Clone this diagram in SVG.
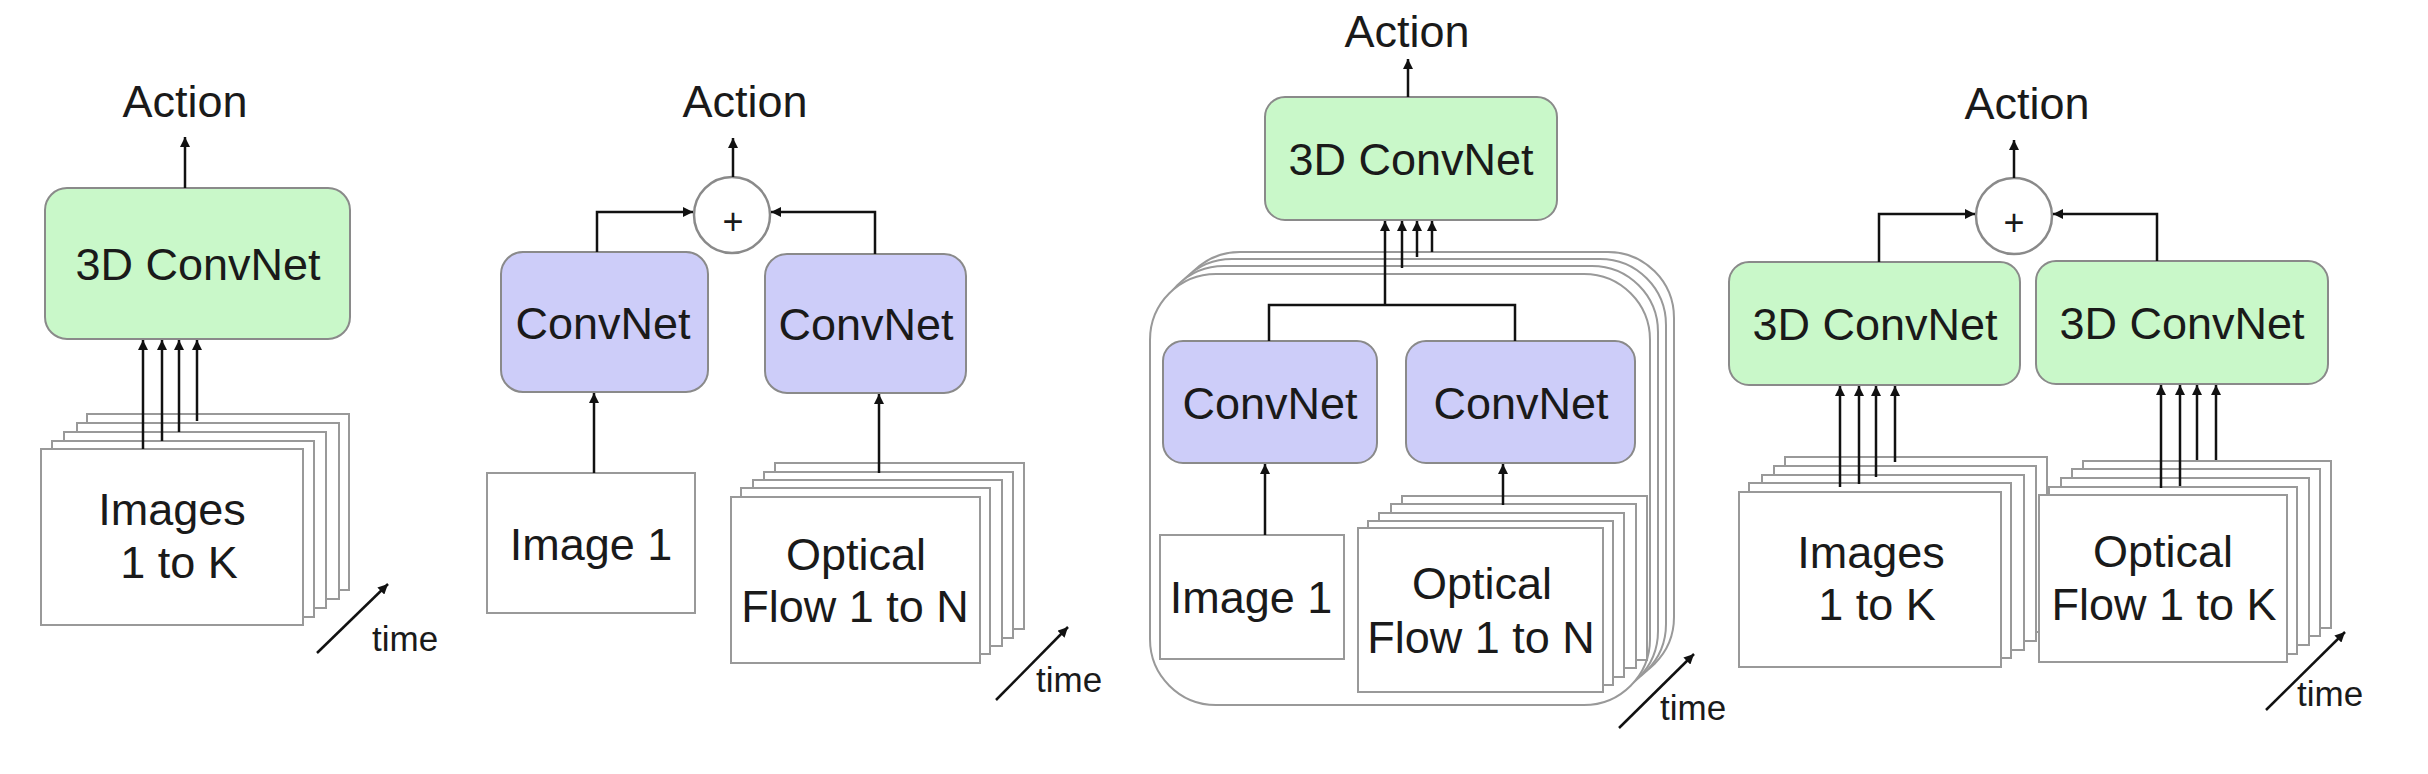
<svg xmlns="http://www.w3.org/2000/svg" width="2428" height="774" viewBox="0 0 2428 774">
<defs>
<marker id="ah" viewBox="0 0 10 10" refX="10" refY="5" markerWidth="11" markerHeight="10" markerUnits="userSpaceOnUse" orient="auto"><path d="M0,0 L10,5 L0,10 z" fill="#111"/></marker>
<style>
text{font-family:"Liberation Sans",Arial,sans-serif;fill:#1a1a1a}
.lbl{font-size:45px;text-anchor:middle}
.time{font-size:35px}
.plus{font-size:36px;text-anchor:middle}
.green{fill:#c9f8c9;stroke:#8a8a8a;stroke-width:2}
.blue{fill:#cdcdf9;stroke:#8a8a8a;stroke-width:2}
.frame{fill:#fff;stroke:#999;stroke-width:2}
.cont{fill:#fff;stroke:#999;stroke-width:2}
.sum{fill:#fff;stroke:#8a8a8a;stroke-width:2.5}
.arr{fill:none;stroke:#111;stroke-width:2.5;marker-end:url(#ah)}
.ln{fill:none;stroke:#111;stroke-width:2.5}
</style>
</defs>
<rect width="2428" height="774" fill="#fff"/>

<!-- Panel 1 -->
<g id="p1-images">
<rect class="frame" x="87" y="414" width="262" height="176"/>
<rect class="frame" x="77" y="423" width="262" height="176"/>
<rect class="frame" x="64" y="432" width="262" height="176"/>
<rect class="frame" x="52" y="441" width="262" height="176"/>
<rect class="frame" x="41" y="449" width="262" height="176"/>
<text class="lbl" x="172" y="525">Images</text>
<text class="lbl" x="179" y="578">1 to K</text>
</g>
<g id="p1-3dconvnet">
<rect class="green" x="45" y="188" width="305" height="151" rx="22"/>
<text class="lbl" x="198" y="280">3D ConvNet</text>
</g>
<g id="p1-action"><text class="lbl" x="185" y="117">Action</text></g>
<g id="p1-time"><text class="time" x="372" y="651">time</text></g>

<!-- Panel 2 -->
<g id="p2-image1">
<rect class="frame" x="487" y="473" width="208" height="140"/>
<text class="lbl" x="591" y="560">Image 1</text>
</g>
<g id="p2-flow">
<rect class="frame" x="775" y="463" width="249" height="166"/>
<rect class="frame" x="764" y="472" width="249" height="166"/>
<rect class="frame" x="753" y="480" width="249" height="166"/>
<rect class="frame" x="741" y="488" width="249" height="166"/>
<rect class="frame" x="731" y="497" width="249" height="166"/>
<text class="lbl" x="856" y="570">Optical</text>
<text class="lbl" x="855" y="622">Flow 1 to N</text>
</g>
<g id="p2-convnet-l">
<rect class="blue" x="501" y="252" width="207" height="140" rx="22"/>
<text class="lbl" x="603" y="339">ConvNet</text>
</g>
<g id="p2-convnet-r">
<rect class="blue" x="765" y="254" width="201" height="139" rx="22"/>
<text class="lbl" x="866" y="340">ConvNet</text>
</g>
<g id="p2-sum">
<circle class="sum" cx="732" cy="215" r="38"/>
<text class="plus" x="733" y="234">+</text>
</g>
<g id="p2-action"><text class="lbl" x="745" y="117">Action</text></g>
<g id="p2-time"><text class="time" x="1036" y="692">time</text></g>

<!-- Panel 3 -->
<g id="p3-container">
<rect class="cont" x="1174" y="252" width="500" height="431" rx="66"/>
<rect class="cont" x="1166" y="259" width="500" height="431" rx="66"/>
<rect class="cont" x="1158" y="266" width="500" height="431" rx="66"/>
<rect class="cont" x="1150" y="274" width="500" height="431" rx="66"/>
</g>
<g id="p3-image1">
<rect class="frame" x="1160" y="535" width="184" height="124"/>
<text class="lbl" x="1251" y="613">Image 1</text>
</g>
<g id="p3-flow">
<rect class="frame" x="1402" y="496" width="245" height="164"/>
<rect class="frame" x="1391" y="504" width="245" height="164"/>
<rect class="frame" x="1379" y="513" width="245" height="164"/>
<rect class="frame" x="1368" y="521" width="245" height="164"/>
<rect class="frame" x="1358" y="528" width="245" height="164"/>
<text class="lbl" x="1482" y="599">Optical</text>
<text class="lbl" x="1481" y="653">Flow 1 to N</text>
</g>
<g id="p3-convnet-l">
<rect class="blue" x="1163" y="341" width="214" height="122" rx="20"/>
<text class="lbl" x="1270" y="419">ConvNet</text>
</g>
<g id="p3-convnet-r">
<rect class="blue" x="1406" y="341" width="229" height="122" rx="20"/>
<text class="lbl" x="1521" y="419">ConvNet</text>
</g>
<g id="p3-3dconvnet">
<rect class="green" x="1265" y="97" width="292" height="123" rx="20"/>
<text class="lbl" x="1411" y="175">3D ConvNet</text>
</g>
<g id="p3-action"><text class="lbl" x="1407" y="47">Action</text></g>
<g id="p3-time"><text class="time" x="1660" y="720">time</text></g>

<!-- Panel 4 -->
<g id="p4-images">
<rect class="frame" x="1785" y="457" width="262" height="175"/>
<rect class="frame" x="1774" y="466" width="262" height="175"/>
<rect class="frame" x="1762" y="475" width="262" height="175"/>
<rect class="frame" x="1749" y="483" width="262" height="175"/>
<rect class="frame" x="1739" y="492" width="262" height="175"/>
<text class="lbl" x="1871" y="568">Images</text>
<text class="lbl" x="1877" y="620">1 to K</text>
</g>
<g id="p4-flow">
<rect class="frame" x="2083" y="461" width="248" height="167"/>
<rect class="frame" x="2072" y="469" width="248" height="167"/>
<rect class="frame" x="2061" y="478" width="248" height="167"/>
<rect class="frame" x="2049" y="487" width="248" height="167"/>
<rect class="frame" x="2039" y="495" width="248" height="167"/>
<text class="lbl" x="2163" y="567">Optical</text>
<text class="lbl" x="2164" y="620">Flow 1 to K</text>
</g>
<g id="p4-3dconvnet-l">
<rect class="green" x="1729" y="262" width="291" height="123" rx="20"/>
<text class="lbl" x="1875" y="340">3D ConvNet</text>
</g>
<g id="p4-3dconvnet-r">
<rect class="green" x="2036" y="261" width="292" height="123" rx="20"/>
<text class="lbl" x="2182" y="339">3D ConvNet</text>
</g>
<g id="p4-sum">
<circle class="sum" cx="2014" cy="216" r="38"/>
<text class="plus" x="2014" y="235">+</text>
</g>
<g id="p4-action"><text class="lbl" x="2027" y="119">Action</text></g>
<g id="p4-time"><text class="time" x="2297" y="706">time</text></g>

<g id="connectors">
<!-- P1 -->
<line class="arr" x1="185" y1="188" x2="185" y2="137"/>
<line class="arr" x1="143" y1="449" x2="143" y2="340"/>
<line class="arr" x1="162" y1="441" x2="162" y2="340"/>
<line class="arr" x1="179" y1="432" x2="179" y2="340"/>
<line class="arr" x1="197" y1="421" x2="197" y2="340"/>
<line class="arr" x1="317" y1="653" x2="388" y2="584"/>
<!-- P2 -->
<line class="arr" x1="733" y1="177" x2="733" y2="138"/>
<path class="arr" d="M597,252 V212 H693"/>
<path class="arr" d="M875,254 V212 H771"/>
<line class="arr" x1="594" y1="473" x2="594" y2="393"/>
<line class="arr" x1="879" y1="473" x2="879" y2="394"/>
<line class="arr" x1="996" y1="700" x2="1068" y2="627"/>
<!-- P3 -->
<line class="arr" x1="1408" y1="97" x2="1408" y2="59"/>
<path class="ln" d="M1269,341 V305 H1515 V341"/>
<line class="arr" x1="1385" y1="305" x2="1385" y2="221"/>
<line class="arr" x1="1402" y1="268" x2="1402" y2="221"/>
<line class="arr" x1="1417" y1="257" x2="1417" y2="221"/>
<line class="arr" x1="1432" y1="252" x2="1432" y2="221"/>
<line class="arr" x1="1265" y1="535" x2="1265" y2="464"/>
<line class="arr" x1="1503" y1="505" x2="1503" y2="464"/>
<line class="arr" x1="1619" y1="728" x2="1694" y2="654"/>
<!-- P4 -->
<line class="arr" x1="2014" y1="178" x2="2014" y2="140"/>
<path class="arr" d="M1879,262 V214 H1975"/>
<path class="arr" d="M2157,261 V214 H2053"/>
<line class="arr" x1="1840" y1="487" x2="1840" y2="386"/>
<line class="arr" x1="1859" y1="484" x2="1859" y2="386"/>
<line class="arr" x1="1876" y1="477" x2="1876" y2="386"/>
<line class="arr" x1="1895" y1="462" x2="1895" y2="386"/>
<line class="arr" x1="2161" y1="488" x2="2161" y2="385"/>
<line class="arr" x1="2180" y1="486" x2="2180" y2="385"/>
<line class="arr" x1="2197" y1="460" x2="2197" y2="385"/>
<line class="arr" x1="2216" y1="460" x2="2216" y2="385"/>
<line class="arr" x1="2266" y1="710" x2="2345" y2="632"/>
</g>
</svg>
